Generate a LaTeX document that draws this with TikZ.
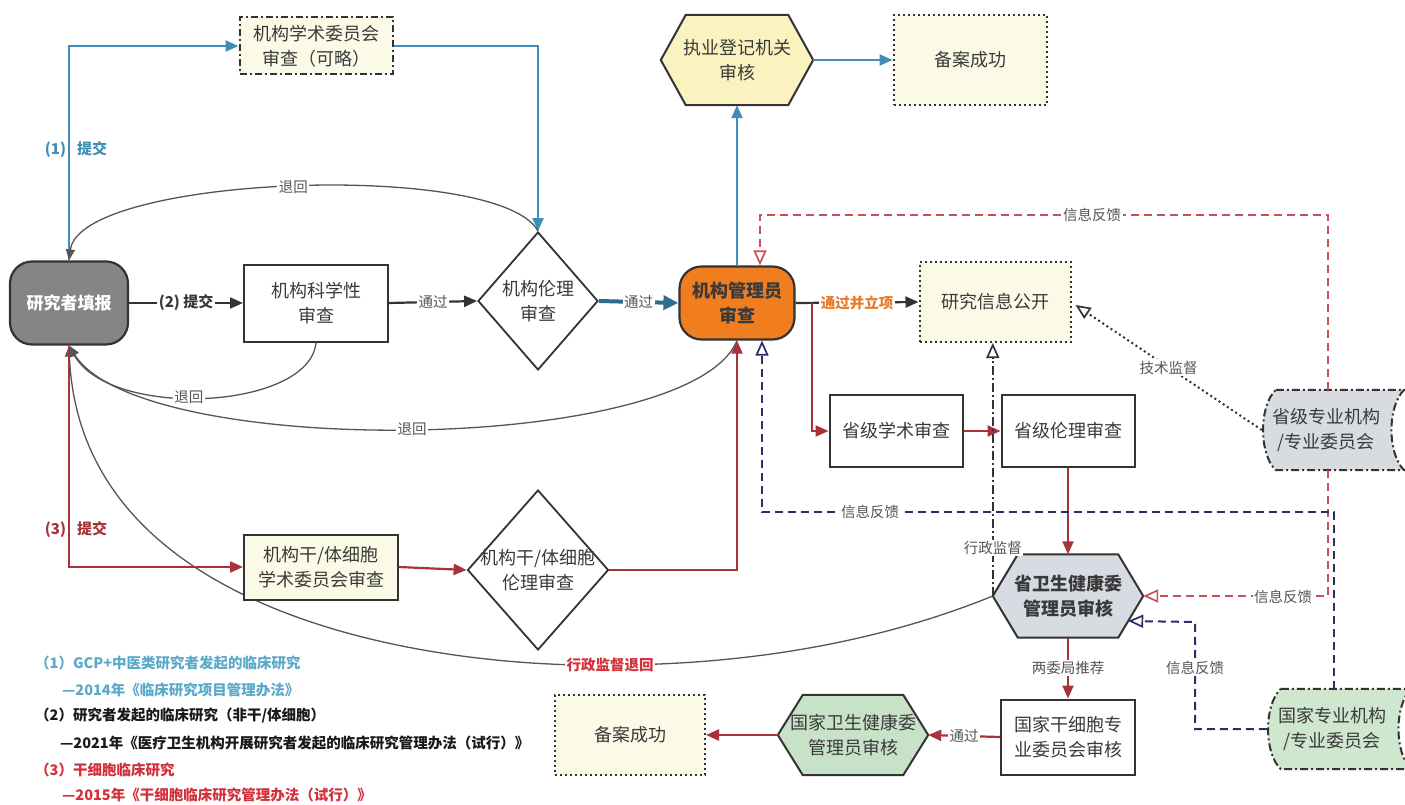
\documentclass[tikz,border=0pt]{standalone}
\usepackage{fontspec}
\setmainfont{Noto Sans CJK SC}
\usetikzlibrary{arrows.meta,shapes.geometric,backgrounds,calc}
\definecolor{lnk}{HTML}{333333}
\definecolor{txt}{HTML}{3A3A3A}
\definecolor{bluel}{HTML}{3F8DB8}
\definecolor{tealb}{HTML}{2C6C8C}
\definecolor{redl}{HTML}{A8323A}
\definecolor{redd}{HTML}{C9505A}
\definecolor{navyd}{HTML}{2E2E66}
\definecolor{grayc}{HTML}{555555}
\definecolor{resfill}{HTML}{858585}
\definecolor{orangef}{HTML}{F07D1E}
\definecolor{paley}{HTML}{FAFAE6}
\definecolor{hexy}{HTML}{FBF3BF}
\definecolor{hexg}{HTML}{D6DCE2}
\definecolor{hexgr}{HTML}{C8E2C8}
\definecolor{sjfill}{HTML}{D8DCE0}
\definecolor{njfill}{HTML}{CFE7CF}
\definecolor{legb}{HTML}{5BA9C9}
\definecolor{legr}{HTML}{D2303A}
\definecolor{orgtxt}{HTML}{E87A28}
\newcommand\nfont{\fontsize{18}{25}\selectfont}
\newcommand\lfont{\fontsize{14.5}{18}\selectfont}
\newcommand\gfont{\fontsize{14.5}{18}\selectfont\bfseries}
\begin{document}
\begin{tikzpicture}[x=1pt,y=-1pt,
  base/.style={align=center, inner sep=0pt, text=txt, font=\nfont},
  boxst/.style={base, rectangle, draw=lnk, line width=2pt, fill=white},
  ddbox/.style={base, rectangle, draw=lnk, line width=2pt, dash pattern=on 7pt off 3pt on 2pt off 3pt, fill=paley},
  dotbox/.style={base, rectangle, draw=lnk, line width=2pt, dash pattern=on 2pt off 3pt, fill=paley},
  rndbox/.style={base, rectangle, rounded corners=22pt, line width=2.2pt},
  dmd/.style={base, diamond, draw=lnk, line width=1.8pt, fill=white},
  hexn/.style={base, rectangle},
  hexline/.style={draw=lnk, line width=2pt},
  sdline/.style={draw=lnk, line width=2pt, dash pattern=on 8pt off 3pt on 2pt off 3pt},
  lbl/.style={font=\lfont, text=grayc, fill=white, inner sep=1.5pt},
  ftip/.style={-{Triangle[length=13pt,width=11pt]}},
  otipst/.style={-{Triangle[open,length=15pt,width=13pt,line width=1.7pt]}},
  blueln/.style={draw=bluel, line width=2.2pt, ftip},
  tealln/.style={draw=tealb, line width=4pt, -{Triangle[length=15pt,width=14pt]}},
  blackln/.style={draw=lnk, line width=2.2pt, ftip},
  redln/.style={draw=redl, line width=2.2pt, ftip},
  grayln/.style={draw=grayc, line width=1.3pt, -{Triangle[length=11pt,width=9pt]}},
  rdash/.style={draw=redd, line width=2pt, dash pattern=on 8pt off 5pt, otipst},
  ndash/.style={draw=navyd, line width=2pt, dash pattern=on 8pt off 5pt, otipst},
  dotln/.style={draw=lnk, line width=2pt, dash pattern=on 2pt off 3pt, otipst},
  ddln/.style={draw=lnk, line width=1.8pt, dash pattern=on 9pt off 3pt on 2pt off 3pt, otipst},
  sublbl/.style={font=\fontsize{15}{18}\selectfont\bfseries, inner sep=0pt}
]
\useasboundingbox (0,0) rectangle (1405,805);

% ---------- nodes ----------
\node[rndbox, fill=resfill, draw=lnk, text=white, font=\fontsize{17}{22}\selectfont\bfseries, minimum width=118pt, minimum height=83pt] (res) at (69,303) {研究者填报};
\node[ddbox, minimum width=153pt, minimum height=57pt] (acad) at (316,46) {机构学术委员会\\审查（可略）};
\node[boxst, minimum width=144pt, minimum height=77pt] (sci) at (316,303) {机构科学性\\审查};
\node[dmd, minimum width=120pt, minimum height=138pt] (eth) at (538,301) {机构伦理\\审查};
\node[rndbox, fill=orangef, draw=lnk, text=txt, font=\nfont\bfseries, minimum width=115pt, minimum height=73pt] (mgr) at (737,303) {机构管理员\\审查};
\node[hexn, minimum width=152pt, minimum height=90pt] (reg) at (737,60) {执业登记机关\\审核};
\node[dotbox, minimum width=153pt, minimum height=90pt] (rec1) at (970,60) {备案成功};
\node[dotbox, minimum width=151pt, minimum height=80pt] (pub) at (995,302) {研究信息公开};
\node[boxst, minimum width=133pt, minimum height=72pt] (pa) at (896,431) {省级学术审查};
\node[boxst, minimum width=133pt, minimum height=72pt] (pe) at (1068,431) {省级伦理审查};
\node[hexn, font=\nfont\bfseries, minimum width=150pt, minimum height=83pt] (hw) at (1068,596) {省卫生健康委\\管理员审核};
\node[boxst, minimum width=134pt, minimum height=75pt] (nsc) at (1068,737) {国家干细胞专\\业委员会审核};
\node[hexn, minimum width=150pt, minimum height=80pt] (nh) at (853,735) {国家卫生健康委\\管理员审核};
\node[dotbox, minimum width=150pt, minimum height=80pt] (rec2) at (630,735) {备案成功};
\node[hexn, minimum width=128pt, minimum height=80pt] (sj) at (1326,430) {省级专业机构\\/专业委员会};
\node[hexn, minimum width=130pt, minimum height=80pt] (nj) at (1332,729) {国家专业机构\\/专业委员会};
\node[boxst, fill=paley, minimum width=154pt, minimum height=65pt] (cell1) at (321,567) {机构干/体细胞\\学术委员会审查};
\node[dmd, minimum width=141pt, minimum height=160pt] (cell2) at (538,570) {\makebox[0pt]{机构干/体细胞}\\\makebox[0pt]{伦理审查}};

% ---------- background shapes ----------
\begin{pgfonlayer}{background}
\fill[white] (0,0) rectangle (1405,805);
\path[hexline, fill=hexy] (reg.west) -- ([xshift=25pt]reg.north west) -- ([xshift=-25pt]reg.north east) -- (reg.east) -- ([xshift=-25pt]reg.south east) -- ([xshift=25pt]reg.south west) -- cycle;
\path[hexline, fill=hexg] (hw.west) -- ([xshift=25pt]hw.north west) -- ([xshift=-25pt]hw.north east) -- (hw.east) -- ([xshift=-25pt]hw.south east) -- ([xshift=25pt]hw.south west) -- cycle;
\path[hexline, fill=hexgr] (nh.west) -- ([xshift=25pt]nh.north west) -- ([xshift=-25pt]nh.north east) -- (nh.east) -- ([xshift=-25pt]nh.south east) -- ([xshift=25pt]nh.south west) -- cycle;
\path[sdline, fill=sjfill] ([xshift=14pt]sj.north west) -- ([xshift=14pt]sj.north east)
  .. controls ([xshift=-3pt,yshift=-16pt]sj.north east) and ([xshift=-3pt,yshift=16pt]sj.south east) .. ([xshift=14pt]sj.south east)
  -- ([xshift=14pt]sj.south west)
  .. controls ([xshift=-3pt,yshift=16pt]sj.south west) and ([xshift=-3pt,yshift=-16pt]sj.north west) .. ([xshift=14pt]sj.north west) -- cycle;
\path[sdline, fill=njfill] ([xshift=14pt]nj.north west) -- ([xshift=14pt]nj.north east)
  .. controls ([xshift=-3pt,yshift=-16pt]nj.north east) and ([xshift=-3pt,yshift=16pt]nj.south east) .. ([xshift=14pt]nj.south east)
  -- ([xshift=14pt]nj.south west)
  .. controls ([xshift=-3pt,yshift=16pt]nj.south west) and ([xshift=-3pt,yshift=-16pt]nj.north west) .. ([xshift=14pt]nj.north west) -- cycle;
\draw[grayln] (hw.west) .. controls (860,650) and (720,665) .. (610,665) coordinate (adm) .. controls (440,668) and (80,620) .. (res.south);
\end{pgfonlayer}

% ---------- connectors ----------
\draw[blueln] (res.north) |- (acad.west);
\node[sublbl, text=bluel] (t1) at (76,150) {(1)\hspace{11pt}提交};
\draw[blueln] (acad.east) -| (eth.north);
\draw[grayln] (eth.north) .. controls (500,160) and (80,175) .. node[lbl]{退回} (res.north);

\draw[blackln] (res.east) -- node[lbl, font=\fontsize{15}{18}\selectfont\bfseries, text=txt]{(2) 提交} (sci.west);
\draw[blackln] (sci.east) -- node[lbl]{通过} (eth.west);
\draw[tealln] (eth.east) -- node[lbl]{通过} (mgr.west);
\draw[grayln] (sci.south) .. controls (310,410) and (110,420) .. node[lbl, pos=0.55]{退回} (res.south);
\draw[grayln] (mgr.south) .. controls (690,455) and (140,460) .. node[lbl]{退回} (res.south);
\node[lbl, font=\lfont\bfseries, text=legr] (l3) at (adm) {行政监督退回};

\draw[redln] (res.south) |- (cell1.west);
\node[sublbl, text=redl] (t3) at (76,530) {(3)\hspace{11pt}提交};
\draw[redln] (cell1.east) -- (cell2.west);
\draw[redln] (cell2.east) -| (mgr.south);

\draw[blueln] (mgr.north) -- (reg.south);
\draw[blueln] (reg.east) -- (rec1.west);
\draw[blackln] (mgr.east) -- node[lbl, text=orgtxt, font=\lfont\bfseries]{通过并立项} (pub.west);
\coordinate (br) at (812,303);
\draw[redln] (br) |- (pa.west);
\draw[redln] (pa.east) -- (pe.west);
\draw[redln] (pe.south) -- (hw.north);
\draw[redln] (hw.south) -- node[lbl]{两委局推荐} (nsc.north);
\draw[redln] (nsc.west) -- node[lbl]{通过} (nh.east);
\draw[redln] (nh.west) -- (rec2.east);

\coordinate (fa) at (760,215);
\draw[rdash] ([xshift=2pt]sj.north) |- (fa) -- (fa |- mgr.north);
\node[lbl] (fb1) at (1092,215) {信息反馈};
\draw[rdash] ([xshift=2pt]sj.south) |- (hw.east);
\node[lbl] (fb2) at (1283,597) {信息反馈};
\coordinate (fb) at (762,512);
\draw[ndash] ([xshift=2pt]nj.north) |- (fb) -- (fb |- mgr.south);
\node[lbl] (fb3) at (870,512) {信息反馈};
\coordinate (fc) at (1195,622);
\draw[ndash] (nj.west) -| (fc) -- ($(hw.east)+(-15,25)$);
\node[lbl] (fb4) at (1195,668) {信息反馈};

\draw[dotln] (sj.west) -- node[lbl, pos=0.5]{技术监督} ($(pub.east)+(4,3)$);
\draw[ddln] (hw.west) -- node[lbl, pos=0.19]{行政监督} (hw.west |- pub.south);

% ---------- legend ----------
\node[anchor=west, font=\gfont, text=legb, inner sep=0pt] (g1) at (35,663) {（1）GCP+中医类研究者发起的临床研究};
\node[anchor=west, font=\gfont, text=legb, inner sep=0pt] (g2) at (62,690) {—2014年《临床研究项目管理办法》};
\node[anchor=west, font=\gfont, text=black!90, inner sep=0pt] (g3) at (35,716) {（2）研究者发起的临床研究（非干/体细胞）};
\node[anchor=west, font=\gfont, text=black!90, inner sep=0pt] (g4) at (60,743) {—2021年《医疗卫生机构开展研究者发起的临床研究管理办法（试行）》};
\node[anchor=west, font=\gfont, text=legr, inner sep=0pt] (g5) at (35,770) {（3）干细胞临床研究};
\node[anchor=west, font=\gfont, text=legr, inner sep=0pt] (g6) at (62,795) {—2015年《干细胞临床研究管理办法（试行）》};
\end{tikzpicture}
\end{document}
